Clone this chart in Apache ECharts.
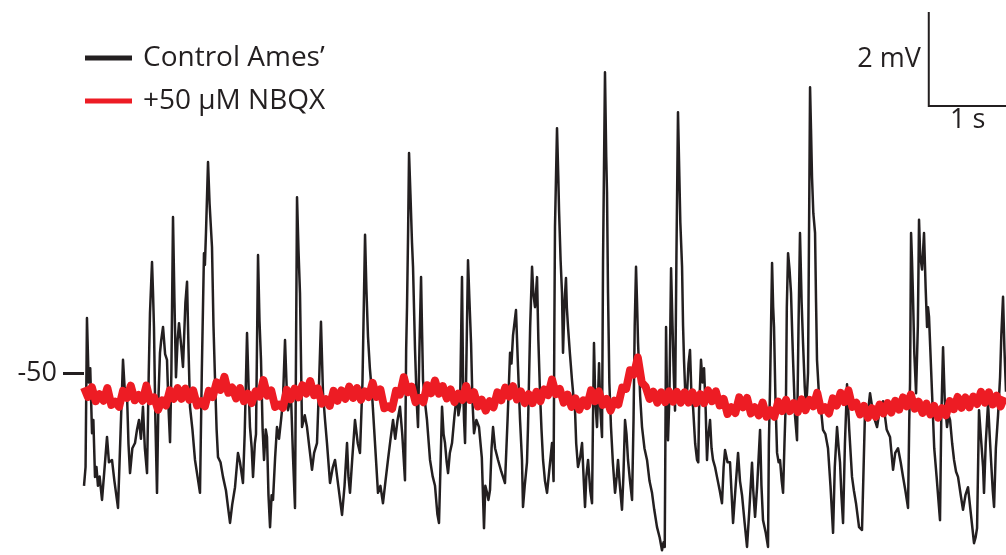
<!DOCTYPE html>
<html>
<head>
<meta charset="utf-8">
<script src="https://cdn.jsdelivr.net/npm/echarts@6/dist/echarts.min.js"></script>
<style>
html,body{margin:0;padding:0;background:#fff;}
#chart{width:1006px;height:555px;}
</style>
</head>
<body>
<div id="chart"></div>
<script>
// Time in seconds, membrane potential in mV
const seriesNames = ['Control Ames\u2019', '+50 \u00b5M NBQX'];
const yTicks = [-50];

// Control Ames' trace: [time (s), voltage (mV)]
const controlTrace = [
[0.000,-52.40],[0.02,-52.0],[0.038,-48.83],[0.06,-50.2],[0.08,-49.9],[0.103,-51.28],[0.12,-51.0],[0.141,-52.21],[0.16,-52.0],[0.179,-52.40],[0.20,-52.2],[0.231,-52.70],[0.26,-52.1],[0.295,-51.36],[0.32,-51.9],[0.359,-51.85],[0.39,-52.3],[0.436,-52.87],[0.47,-51.2],[0.500,-49.72],[0.52,-50.3],[0.551,-50.43],[0.57,-51.5],[0.590,-52.13],[0.62,-51.6],[0.654,-51.49],[0.68,-51.2],[0.705,-51.0],[0.73,-51.4],[0.756,-50.72],[0.78,-51.6],[0.808,-52.13],[0.83,-50.0],[0.846,-48.72],[0.872,-47.64],[0.885,-48.3],[0.897,-49.02],[0.915,-51.0],[0.936,-52.55],[0.955,-50.5],[0.974,-49.57],[0.99,-49.3],[1.013,-49.02],[1.04,-49.6],[1.064,-49.72],[1.085,-50.8],[1.103,-51.47],[1.12,-50.0],[1.141,-46.68],[1.16,-48.5],[1.179,-50.09],[1.20,-49.3],[1.218,-48.94],[1.245,-49.4],[1.269,-49.87],[1.30,-48.5],[1.321,-48.06],[1.34,-49.5],[1.359,-50.72],[1.39,-51.2],[1.423,-51.85],[1.455,-52.2],[1.487,-52.55],[1.51,-50.0],[1.538,-47.45],[1.55,-47.7],[1.564,-47.0],[1.590,-45.51],[1.61,-46.4],[1.641,-47.32],[1.66,-49.0],[1.679,-50.09],[1.70,-51.2],[1.718,-51.79],[1.75,-51.9],[1.782,-52.21],[1.82,-52.5],[1.85,-52.9],[1.872,-53.19],[1.90,-52.8],[1.936,-52.43],[1.974,-51.70],
[2.00,-51.9],[2.038,-52.34],[2.06,-51.3],[2.090,-49.15],[2.11,-50.3],[2.128,-51.15],[2.15,-51.6],[2.167,-52.21],[2.19,-51.5],[2.205,-51.3],[2.231,-47.49],[2.25,-48.9],[2.269,-49.72],[2.29,-51.2],[2.308,-51.85],[2.33,-51.2],[2.346,-51.36],[2.365,-52.6],[2.385,-53.28],[2.405,-52.6],[2.423,-52.70],[2.45,-51.8],[2.474,-51.15],[2.50,-51.4],[2.526,-51.0],[2.55,-50.6],[2.577,-49.30],[2.60,-50.4],[2.615,-50.79],[2.64,-50.6],[2.654,-50.5],[2.68,-51.8],[2.705,-52.87],[2.731,-46.26],[2.75,-47.4],[2.769,-48.30],[2.795,-51.15],[2.83,-50.9],[2.859,-51.15],[2.89,-51.6],[2.923,-52.06],[2.95,-51.7],[2.987,-51.49],[3.01,-50.4],[3.038,-48.91],[3.064,-50.43],[3.09,-51.0],[3.115,-51.49],[3.154,-52.34],[3.19,-52.0],[3.218,-51.85],[3.26,-52.4],[3.308,-53.02],[3.34,-52.4],[3.372,-51.49],[3.39,-52.2],[3.410,-52.55],[3.44,-51.8],[3.474,-51.0],[3.51,-51.5],[3.538,-51.70],[3.57,-50.2],[3.603,-47.06],[3.62,-48.2],[3.641,-49.23],[3.665,-49.9],[3.692,-50.43],[3.72,-51.2],[3.769,-52.55],[3.80,-52.4],[3.833,-52.77],[3.865,-52.3],[3.897,-51.85],[3.93,-51.4],[3.962,-51.00],
[3.99,-51.4],[4.02,-51.0],[4.051,-50.72],[4.08,-51.3],[4.115,-52.28],[4.13,-49.5],[4.141,-48.60],[4.155,-47.0],[4.167,-45.32],[4.185,-46.2],[4.205,-47.23],[4.218,-47.74],[4.244,-49.51],[4.265,-50.6],[4.282,-51.15],[4.30,-49.5],[4.321,-47.96],[4.335,-49.2],[4.346,-50.15],[4.37,-50.6],[4.397,-51.00],[4.42,-51.5],[4.436,-51.85],[4.47,-52.2],[4.500,-52.40],[4.53,-53.0],[4.551,-53.19],[4.57,-52.0],[4.590,-50.72],[4.61,-51.3],[4.628,-51.49],[4.65,-51.9],[4.667,-52.13],[4.69,-51.7],[4.718,-51.49],[4.75,-50.9],[4.782,-50.43],[4.80,-50.9],[4.821,-50.7],[4.846,-47.96],[4.86,-50.2],[4.872,-51.0],[4.885,-51.49],[4.897,-50.3],[4.923,-47.60],[4.94,-48.4],[4.962,-49.36],[4.98,-50.6],[5.000,-51.28],[5.03,-51.0],[5.064,-51.15],[5.10,-51.8],[5.128,-53.30],[5.145,-52.4],[5.167,-52.55],[5.185,-52.7],[5.205,-52.49],[5.225,-51.6],[5.244,-51.15],[5.27,-51.6],[5.308,-51.85],[5.35,-52.1],[5.397,-52.34],[5.43,-51.0],[5.462,-49.57],[5.48,-49.8],[5.500,-49.2],[5.538,-48.66],[5.564,-49.87],[5.59,-51.0],[5.615,-51.85],[5.628,-52.85],[5.65,-52.4],[5.679,-51.9],[5.692,-51.15],[5.72,-49.0],[5.744,-47.74],[5.76,-48.3],[5.782,-48.6],[5.808,-47.96],[5.825,-49.3],[5.846,-50.43],[5.865,-51.2],[5.885,-51.85],[5.91,-52.3],[5.936,-52.55],
[5.949,-52.55],[5.975,-51.9],[6.000,-51.49],[6.02,-52.3],[6.03,-49.0],[6.038,-46.89],[6.064,-44.79],[6.08,-45.8],[6.090,-46.53],[6.11,-47.6],[6.128,-48.30],[6.141,-49.57],[6.16,-48.5],[6.179,-47.98],[6.19,-48.6],[6.205,-49.02],[6.23,-49.6],[6.256,-50.15],[6.28,-50.6],[6.295,-50.8],[6.31,-51.5],[6.333,-52.00],[6.36,-51.8],[6.385,-51.49],[6.41,-52.4],[6.423,-52.85],[6.44,-52.2],[6.462,-51.85],[6.49,-52.5],[6.513,-52.77],[6.525,-51.0],[6.538,-49.36],[6.555,-50.6],[6.577,-51.15],[6.59,-50.5],[6.603,-49.79],[6.62,-50.8],[6.641,-51.36],[6.654,-47.60],[6.679,-43.60],[6.695,-45.4],[6.705,-46.17],[6.718,-48.30],[6.735,-50.2],[6.756,-51.15],[6.78,-51.9],[6.808,-52.55],[6.83,-52.2],[6.846,-51.85],[6.87,-52.4],[6.897,-52.91],[6.915,-52.2],[6.936,-51.00],[6.955,-51.3],[6.974,-51.85],[7.00,-52.3],[7.026,-52.70],[7.045,-51.0],[7.06,-49.0],[7.077,-47.74],[7.09,-48.5],[7.103,-49.36],[7.13,-50.5],[7.154,-51.15],[7.185,-51.6],[7.218,-51.85],[7.25,-52.3],[7.282,-52.55],[7.31,-52.9],[7.346,-53.28],[7.38,-53.5],[7.410,-53.77],[7.43,-53.6],[7.445,-53.7],[7.455,-51.0],[7.462,-49.02],[7.475,-50.6],[7.487,-51.43],[7.505,-50.5],[7.526,-47.77],[7.545,-49.0],[7.56,-50.0],[7.577,-50.8],[7.595,-47.5],[7.615,-44.45],[7.628,-45.47],[7.645,-46.8],[7.667,-47.74],[7.68,-49.0],[7.692,-49.72],[7.71,-50.5],[7.731,-50.43],[7.75,-49.8],[7.769,-49.51],[7.79,-50.6],[7.808,-50.72],[7.835,-51.5],[7.859,-51.85],[7.875,-51.9],[7.885,-50.8],[7.910,-49.72],[7.93,-50.2],[7.949,-49.9],
[7.97,-50.8],[7.987,-51.85],[8.00,-51.4],[8.026,-51.00],[8.045,-51.6],[8.064,-51.85],[8.09,-52.0],[8.115,-52.21],[8.15,-52.5],[8.179,-52.77],[8.20,-52.0],[8.218,-51.64],[8.25,-51.9],[8.282,-51.9],[8.30,-52.5],[8.321,-53.19],[8.35,-52.5],[8.385,-51.70],[8.41,-52.3],[8.436,-52.6],[8.47,-53.2],[8.500,-53.70],[8.53,-52.9],[8.564,-51.91],[8.58,-52.5],[8.603,-53.06],[8.63,-52.4],[8.667,-51.21],[8.685,-52.4],[8.705,-53.13],[8.74,-53.4],[8.769,-53.70],[8.78,-51.5],[8.795,-50.30],[8.821,-47.66],[8.835,-48.6],[8.846,-49.02],[8.865,-50.6],[8.885,-51.70],[8.905,-51.9],[8.923,-51.85],[8.945,-52.3],[8.962,-52.55],[8.98,-51.5],[9.000,-50.43],[9.01,-48.6],[9.026,-47.45],[9.045,-47.8],[9.064,-48.30],[9.08,-49.2],[9.090,-49.72],[9.115,-50.9],[9.141,-51.43],[9.16,-49.0],[9.179,-47.02],[9.20,-48.5],[9.218,-49.36],[9.24,-50.3],[9.256,-50.7],[9.27,-50.4],[9.282,-50.0],[9.295,-47.0],[9.308,-43.92],[9.32,-44.8],[9.333,-45.83],[9.35,-46.6],[9.372,-47.02],[9.385,-48.5],[9.397,-49.72],[9.42,-50.4],[9.449,-50.79],[9.474,-51.21],[9.505,-51.3],[9.538,-51.6],[9.57,-52.4],[9.603,-53.40],[9.625,-52.0],[9.654,-51.15],[9.675,-51.6],[9.692,-51.9],[9.71,-52.6],[9.731,-53.19],[9.755,-51.5],[9.782,-50.24],[9.81,-51.2],[9.846,-52.21],[9.87,-52.5],[9.897,-52.77],[9.936,-53.28],
[9.974,-53.34],[9.99,-52.3],[10.013,-50.79],[10.04,-51.0],[10.077,-50.43],[10.12,-50.9],[10.167,-51.15],[10.20,-50.8],[10.244,-50.6],[10.29,-51.2],[10.333,-51.36],[10.372,-52.06],[10.40,-51.7],[10.436,-51.6],[10.47,-51.9],[10.500,-52.21],[10.53,-52.5],[10.564,-52.87],[10.58,-51.0],[10.590,-50.2],[10.603,-47.02],[10.615,-47.6],[10.628,-48.4],[10.645,-49.6],[10.667,-50.43],[10.69,-49.0],[10.705,-46.74],[10.72,-47.5],[10.744,-47.8],[10.769,-47.02],[10.79,-48.2],[10.808,-49.02],[10.82,-48.6],[10.833,-48.8],[10.872,-50.43],[10.90,-51.6],[10.93,-52.2],[10.974,-53.13],[10.99,-51.0],[11.013,-49.45],[11.035,-50.6],[11.064,-51.15],[11.085,-50.9],[11.103,-51.0],[11.13,-51.5],[11.154,-51.85],[11.18,-52.1],[11.205,-52.21],[11.24,-52.6],[11.269,-52.91],[11.30,-52.6],[11.333,-52.43],[11.37,-53.0],[11.41,-53.62],[11.43,-53.5],[11.449,-53.3],[11.474,-50.79],[11.50,-51.4],[11.526,-52.0],[11.538,-52.55],[11.56,-51.5],[11.590,-50.64],[11.61,-51.3],[11.628,-51.85],[11.65,-52.5],[11.667,-52.85],[11.69,-51.6],[11.718,-50.9],[11.744,-50.09],[11.76,-49.2],[11.782,-48.38],[11.80,-49.5],[11.82,-50.4]
];

// NBQX trace: voltage (mV) sampled every 0.05 s from t = 0
const nbqxStep = 0.05;
const nbqxValues = [
-50.31,-50.51,-50.30,-50.60,-50.45,-50.59,-50.32,-50.68,-50.61,-50.72,
-50.38,-50.53,-50.27,-50.58,-50.47,-50.59,-50.27,-50.60,-50.52,-50.78,
-50.58,-50.69,-50.37,-50.55,-50.32,-50.55,-50.33,-50.57,-50.37,-50.69,
-50.60,-50.71,-50.38,-50.51,-50.20,-50.36,-50.08,-50.42,-50.31,-50.54,
-50.32,-50.60,-50.44,-50.64,-50.39,-50.50,-50.15,-50.48,-50.37,-50.72,
-50.67,-50.74,-50.36,-50.56,-50.33,-50.52,-50.26,-50.44,-50.17,-50.47,
-50.33,-50.65,-50.56,-50.70,-50.38,-50.59,-50.37,-50.55,-50.29,-50.53,
-50.32,-50.57,-50.39,-50.51,-50.21,-50.51,-50.35,-50.75,-50.71,-50.76,
-50.38,-50.46,-50.09,-50.41,-50.29,-50.62,-50.53,-50.62,-50.26,-50.43,
-50.16,-50.44,-50.28,-50.54,-50.35,-50.62,-50.44,-50.57,-50.28,-50.57,
-50.41,-50.71,-50.57,-50.80,-50.60,-50.73,-50.41,-50.58,-50.31,-50.50,
-50.28,-50.56,-50.39,-50.64,-50.45,-50.64,-50.40,-50.60,-50.35,-50.47,
-50.14,-50.45,-50.34,-50.63,-50.46,-50.72,-50.54,-50.78,-50.58,-50.70,
-50.37,-50.60,-50.39,-50.68,-50.55,-50.80,-50.59,-50.67,-50.31,-50.34,
-49.94,-50.03,-49.67,-50.20,-50.29,-50.55,-50.40,-50.63,-50.41,-50.62,
-50.39,-50.61,-50.40,-50.63,-50.41,-50.63,-50.41,-50.64,-50.45,-50.64,
-50.37,-50.60,-50.39,-50.69,-50.55,-50.87,-50.73,-50.85,-50.52,-50.73,
-50.53,-50.86,-50.73,-50.90,-50.63,-50.93,-50.79,-50.93,-50.61,-50.81,
-50.57,-50.81,-50.64,-50.83,-50.56,-50.79,-50.57,-50.71,-50.42,-50.80,
-50.73,-50.86,-50.54,-50.69,-50.42,-50.62,-50.37,-50.72,-50.63,-50.88,
-50.70,-50.95,-50.75,-50.93,-50.67,-50.86,-50.64,-50.84,-50.59,-50.78,
-50.52,-50.71,-50.46,-50.76,-50.61,-50.85,-50.65,-50.88,-50.70,-50.95,
-50.75,-50.90,-50.60,-50.77,-50.51,-50.74,-50.52,-50.73,-50.50,-50.66,
-50.40,-50.63,-50.41,-50.67,-50.48,-50.71,-50.51
];
const nbqxTrace = nbqxValues.map((v, i) => [+(i * nbqxStep).toFixed(2), v]);

// Scale bar sizes
const scaleBarTime = 1;   // s
const scaleBarVolt = 2;   // mV
const scaleBarOrigin = [10.83, -44.32];

const ink = '#231F20';
const red = '#ED1C24';
const font = 'Open Sans';

const chart = echarts.init(document.getElementById('chart'), null, {renderer: 'canvas'});
const option = {
  animation: false,
  backgroundColor: '#fff',
  grid: {left: 84, right: 0, top: 0, bottom: 0, containLabel: false},
  xAxis: {
    type: 'value', min: 0, max: 11.82, show: false
  },
  yAxis: {
    type: 'value', min: -53.872, max: -42.064,
    axisLine: {show: false},
    splitLine: {show: false},
    axisTick: {show: true, customValues: yTicks, length: 21, lineStyle: {color: ink, width: 3}},
    axisLabel: {show: true, customValues: yTicks, margin: 27, color: ink, fontSize: 27, fontFamily: font}
  },
  legend: {
    orient: 'vertical', left: 85, top: 43, padding: 0,
    icon: 'rect', itemWidth: 47, itemHeight: 5, itemGap: 13,
    textStyle: {color: ink, fontSize: 28, fontFamily: font, lineHeight: 30, padding: [0, 0, 0, 6]},
    data: seriesNames
  },
  series: [
    {
      name: seriesNames[0], type: 'line', data: controlTrace,
      showSymbol: false, symbol: 'none', sampling: false,
      lineStyle: {color: ink, width: 2.5, join: 'round'}, itemStyle: {color: ink}, z: 2
    },
    {
      name: seriesNames[1], type: 'line', data: nbqxTrace,
      showSymbol: false, symbol: 'none', sampling: false,
      lineStyle: {color: red, width: 8, join: 'round'}, itemStyle: {color: red}, z: 3
    }
  ]
};
chart.setOption(option);

// Scale bar placed in data coordinates
const p0 = chart.convertToPixel({gridIndex: 0}, scaleBarOrigin);
const pT = chart.convertToPixel({gridIndex: 0}, [scaleBarOrigin[0] + scaleBarTime, scaleBarOrigin[1]]);
const pV = chart.convertToPixel({gridIndex: 0}, [scaleBarOrigin[0], scaleBarOrigin[1] + scaleBarVolt]);
chart.setOption({
  graphic: [
    {type: 'polyline', shape: {points: [[pV[0], pV[1]], [p0[0], p0[1]], [pT[0], pT[1]]]},
     style: {stroke: ink, lineWidth: 2, fill: null}, z: 10},
    {type: 'text', x: p0[0] - 8, y: (p0[1] + pV[1]) / 2,
     style: {text: scaleBarVolt + ' mV', fill: ink, font: '27px "' + font + '"', align: 'right', verticalAlign: 'middle'}, z: 10},
    {type: 'text', x: (p0[0] + pT[0]) / 2, y: p0[1] + 1,
     style: {text: scaleBarTime + ' s', fill: ink, font: '27px "' + font + '"', align: 'center', verticalAlign: 'top'}, z: 10}
  ]
});
</script>
</body>
</html>
